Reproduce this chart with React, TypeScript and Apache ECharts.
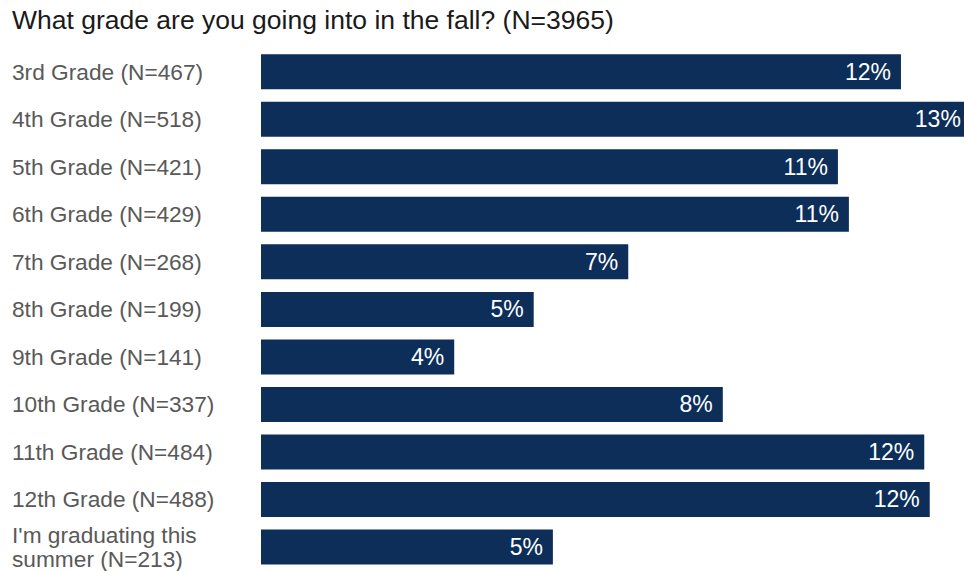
import React, { useEffect, useRef } from "react";
import * as echarts from "echarts";

const titleText = "What grade are you going into in the fall? (N=3965)";
const categories = [
  "3rd Grade (N=467)",
  "4th Grade (N=518)",
  "5th Grade (N=421)",
  "6th Grade (N=429)",
  "7th Grade (N=268)",
  "8th Grade (N=199)",
  "9th Grade (N=141)",
  "10th Grade (N=337)",
  "11th Grade (N=484)",
  "12th Grade (N=488)",
  "I'm graduating this\nsummer (N=213)",
];
const counts = [467, 518, 421, 429, 268, 199, 141, 337, 484, 488, 213];
const pctLabels = ["12%", "13%", "11%", "11%", "7%", "5%", "4%", "8%", "12%", "12%", "5%"];

const FONT = "'Liberation Sans', Arial, Helvetica, sans-serif";

export default function App() {
  const ref = useRef<HTMLDivElement>(null);
  useEffect(() => {
    if (!ref.current) return;
    const chart = echarts.init(ref.current, undefined, { renderer: "svg" });
    chart.setOption({
      animation: false,
      title: {
        text: titleText,
        left: 12,
        top: 6,
        padding: 0,
        textStyle: { fontFamily: FONT, fontSize: 26.5, fontWeight: "normal", color: "#1a1a1a" },
      },
      grid: { left: 261, right: 0, top: 48, bottom: 0, containLabel: false },
      xAxis: {
        type: "value",
        min: 0,
        max: 513,
        show: false,
        splitLine: { show: false },
      },
      yAxis: {
        type: "category",
        inverse: true,
        data: categories,
        axisLine: { show: false },
        axisTick: { show: false },
        axisLabel: {
          align: "left",
          margin: 249,
          fontFamily: FONT,
          fontSize: 22.7,
          lineHeight: 24,
          color: "#595959",
        },
      },
      series: [
        {
          type: "bar",
          data: counts,
          barWidth: 35,
          clip: false,
          itemStyle: { color: "#0c2e59" },
          label: {
            show: true,
            position: "insideRight",
            distance: 10,
            fontFamily: FONT,
            fontSize: 23,
            color: "#ffffff",
            formatter: (p: any) => pctLabels[p.dataIndex],
          },
        },
      ],
    });
    return () => chart.dispose();
  }, []);
  return (
    <div
      ref={ref}
      style={{ position: "absolute", left: 0, top: 0, width: 964, height: 571, background: "#fff" }}
    />
  );
}
